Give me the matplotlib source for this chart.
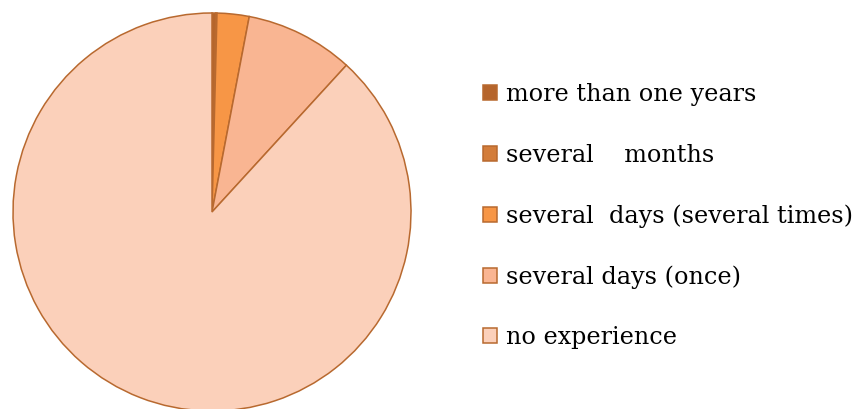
import matplotlib
matplotlib.use("Agg")
import matplotlib.pyplot as plt
from matplotlib.patches import Patch

# categories and shares (percent)
labels = ['more than one years', 'several    months', 'several  days (several times)',
          'several days (once)', 'no experience']
shares = [0.3, 0.1, 2.6, 8.8, 88.2]
colors = ['#B5652C', '#D37D3B', '#F79646', '#F9B592', '#FBD0BA']
edge = '#B8692F'

fig = plt.figure(figsize=(8.56, 4.09), dpi=100)
# pie axes, 424 px square, centre at (212, 212) from top-left
ax = fig.add_axes([0, -15 / 409, 424 / 856, 424 / 409])
ax.pie(shares, colors=colors, startangle=90, counterclock=False, radius=1.0,
       wedgeprops=dict(edgecolor=edge, linewidth=1.1))
ax.set_xlim(-1.0653, 1.0653)
ax.set_ylim(-1.0653, 1.0653)
ax.set_aspect('equal')
ax.axis('off')

handles = [Patch(facecolor=c, edgecolor=edge, linewidth=1.1) for c in colors]
fig.legend(handles, labels, loc='upper left', bbox_to_anchor=(483 / 856, 1 - 83 / 409),
           frameon=False, prop={'family': 'DejaVu Serif', 'size': 17.2},
           handlelength=0.58, handleheight=0.58, handletextpad=0.38,
           labelspacing=1.57, borderaxespad=0, borderpad=0)

fig.savefig('out.png', dpi=100)
